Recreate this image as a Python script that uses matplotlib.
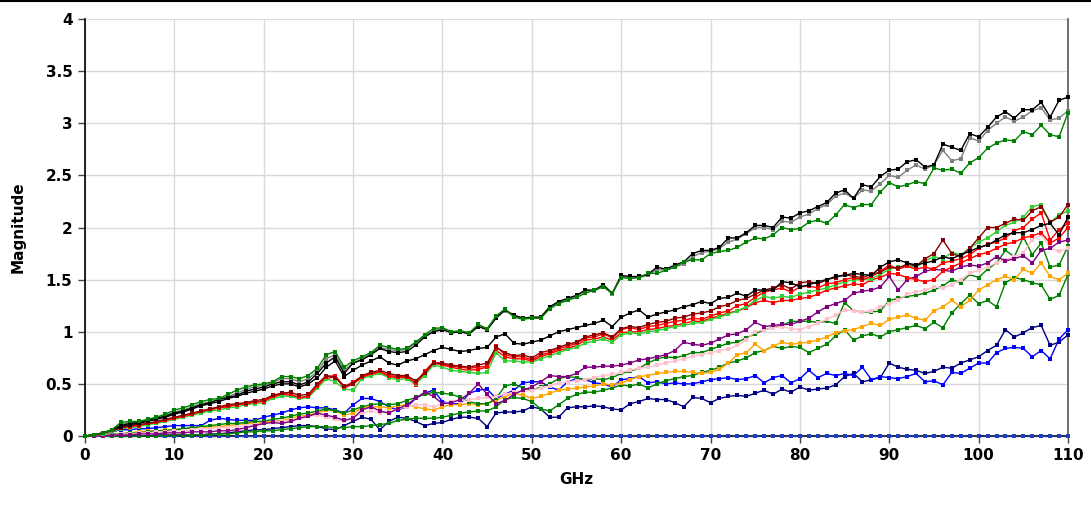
import numpy as np
import matplotlib
matplotlib.use("Agg")
import matplotlib.pyplot as plt
from matplotlib.ticker import FuncFormatter

freq_ghz = list(range(0, 111))

black_top = [
    0, 0.01, 0.03, 0.06, 0.10, 0.12, 0.13, 0.15, 0.17, 0.19, 0.22, 0.24, 0.27, 0.30, 0.32, 0.35, 0.37, 0.39,
    0.43, 0.45, 0.47, 0.50, 0.52, 0.52, 0.49, 0.52, 0.60, 0.70, 0.76, 0.60, 0.70, 0.73, 0.78, 0.84, 0.81, 0.80, 0.81, 0.87,
    0.95, 1.00, 1.02, 0.99, 1.00, 0.98, 1.05, 1.02, 1.13, 1.21, 1.16, 1.13, 1.14, 1.14, 1.24, 1.29, 1.32, 1.35, 1.40,
    1.40, 1.45, 1.37, 1.54, 1.53, 1.53, 1.55, 1.62, 1.60, 1.64, 1.67, 1.75, 1.78, 1.78, 1.81, 1.90, 1.90, 1.95, 2.02, 2.02,
    2.00, 2.10, 2.09, 2.14, 2.16, 2.20, 2.24, 2.33, 2.36, 2.28, 2.41, 2.39, 2.49, 2.55, 2.56, 2.63, 2.65,
    2.58, 2.60, 2.80, 2.77, 2.74, 2.90, 2.87, 2.96, 3.06, 3.11, 3.05, 3.13, 3.13, 3.20, 3.06, 3.22, 3.25,
]
gray_top = [
    0, 0.01, 0.03, 0.05, 0.11, 0.13, 0.14, 0.15, 0.18, 0.20, 0.23, 0.25, 0.28, 0.31, 0.33, 0.35, 0.38, 0.41,
    0.45, 0.47, 0.49, 0.51, 0.55, 0.55, 0.52, 0.55, 0.62, 0.74, 0.78, 0.63, 0.70, 0.74, 0.79, 0.85, 0.83, 0.82, 0.83, 0.89,
    0.96, 1.01, 1.03, 0.99, 1.00, 0.98, 1.06, 1.02, 1.14, 1.20, 1.15, 1.13, 1.13, 1.14, 1.23, 1.28, 1.31, 1.34, 1.39,
    1.39, 1.44, 1.36, 1.53, 1.52, 1.52, 1.54, 1.60, 1.59, 1.62, 1.65, 1.72, 1.76, 1.77, 1.80, 1.86, 1.89, 1.94, 2.00, 2.00,
    1.98, 2.06, 2.05, 2.10, 2.13, 2.18, 2.22, 2.30, 2.33, 2.28, 2.36, 2.35, 2.42, 2.50, 2.48, 2.55, 2.60,
    2.56, 2.60, 2.74, 2.64, 2.66, 2.86, 2.83, 2.93, 3.00, 3.06, 3.02, 3.06, 3.12, 3.15, 3.03, 3.05, 3.12,
]
green_top = [
    0, 0.01, 0.03, 0.06, 0.13, 0.14, 0.14, 0.16, 0.18, 0.21, 0.25, 0.27, 0.30, 0.33, 0.35, 0.36, 0.40, 0.44,
    0.47, 0.49, 0.50, 0.52, 0.57, 0.57, 0.55, 0.58, 0.65, 0.78, 0.81, 0.66, 0.72, 0.76, 0.80, 0.87, 0.85, 0.83, 0.84, 0.90,
    0.97, 1.03, 1.04, 1.00, 1.01, 0.99, 1.07, 1.03, 1.15, 1.22, 1.14, 1.12, 1.13, 1.13, 1.22, 1.27, 1.30, 1.33, 1.37,
    1.40, 1.43, 1.37, 1.52, 1.51, 1.52, 1.56, 1.56, 1.59, 1.62, 1.67, 1.69, 1.69, 1.75, 1.77, 1.78, 1.81, 1.86, 1.90, 1.89,
    1.93, 2.00, 1.98, 1.99, 2.05, 2.07, 2.04, 2.12, 2.22, 2.19, 2.22, 2.22, 2.34, 2.43, 2.39, 2.41, 2.44,
    2.42, 2.57, 2.55, 2.56, 2.52, 2.62, 2.67, 2.76, 2.81, 2.84, 2.83, 2.92, 2.89, 2.98, 2.89, 2.87, 3.10,
]
black_mid = [
    0, 0.01, 0.03, 0.05, 0.09, 0.11, 0.12, 0.14, 0.16, 0.18, 0.21, 0.23, 0.26, 0.29, 0.31, 0.33, 0.36, 0.38,
    0.41, 0.43, 0.45, 0.48, 0.50, 0.50, 0.47, 0.50, 0.56, 0.66, 0.72, 0.57, 0.63, 0.68, 0.72, 0.76, 0.70, 0.68, 0.72, 0.74,
    0.78, 0.82, 0.85, 0.83, 0.81, 0.82, 0.84, 0.85, 0.95, 0.98, 0.89, 0.88, 0.90, 0.92, 0.96, 1.00, 1.02, 1.04, 1.06,
    1.08, 1.11, 1.05, 1.14, 1.18, 1.21, 1.14, 1.17, 1.19, 1.21, 1.24, 1.26, 1.29, 1.27, 1.32, 1.33, 1.37, 1.34, 1.40, 1.40,
    1.40, 1.48, 1.47, 1.43, 1.45, 1.48, 1.50, 1.53, 1.54, 1.56, 1.55, 1.54, 1.62, 1.67, 1.69, 1.66, 1.64,
    1.66, 1.68, 1.72, 1.70, 1.74, 1.77, 1.81, 1.83, 1.88, 1.93, 1.95, 1.95, 1.98, 2.02, 2.04, 1.93, 2.10,
]
maroon = [
    0, 0.01, 0.03, 0.05, 0.08, 0.10, 0.11, 0.12, 0.14, 0.16, 0.18, 0.20, 0.22, 0.24, 0.26, 0.28, 0.30, 0.31,
    0.32, 0.34, 0.35, 0.39, 0.41, 0.42, 0.39, 0.40, 0.50, 0.58, 0.56, 0.48, 0.50, 0.58, 0.61, 0.63, 0.60, 0.58, 0.58, 0.53,
    0.60, 0.70, 0.70, 0.68, 0.67, 0.66, 0.68, 0.70, 0.85, 0.80, 0.77, 0.78, 0.75, 0.80, 0.82, 0.85, 0.88, 0.90, 0.95,
    0.97, 0.99, 0.95, 1.03, 1.05, 1.04, 1.07, 1.09, 1.10, 1.13, 1.14, 1.17, 1.18, 1.20, 1.24, 1.26, 1.30, 1.32, 1.36, 1.40,
    1.42, 1.45, 1.41, 1.47, 1.48, 1.46, 1.50, 1.52, 1.55, 1.53, 1.52, 1.55, 1.57, 1.62, 1.61, 1.65, 1.63,
    1.70, 1.75, 1.88, 1.75, 1.72, 1.80, 1.90, 2.00, 2.00, 2.04, 2.08, 2.07, 2.16, 2.20, 2.05, 2.10, 2.22,
]
red = [
    0, 0.01, 0.03, 0.05, 0.08, 0.09, 0.10, 0.12, 0.13, 0.15, 0.17, 0.19, 0.21, 0.24, 0.26, 0.27, 0.29, 0.30,
    0.31, 0.33, 0.33, 0.38, 0.41, 0.40, 0.37, 0.38, 0.48, 0.57, 0.58, 0.47, 0.52, 0.57, 0.60, 0.62, 0.58, 0.57, 0.57, 0.51,
    0.62, 0.71, 0.69, 0.67, 0.66, 0.65, 0.66, 0.67, 0.86, 0.78, 0.76, 0.76, 0.73, 0.78, 0.80, 0.84, 0.86, 0.89, 0.94,
    0.95, 0.98, 0.94, 1.02, 1.04, 1.02, 1.05, 1.06, 1.08, 1.10, 1.11, 1.13, 1.12, 1.15, 1.18, 1.20, 1.25, 1.27, 1.33, 1.38,
    1.40, 1.42, 1.38, 1.43, 1.44, 1.42, 1.46, 1.47, 1.50, 1.52, 1.50, 1.53, 1.58, 1.64, 1.60, 1.63, 1.60,
    1.62, 1.60, 1.66, 1.68, 1.70, 1.74, 1.80, 1.84, 1.86, 1.90, 1.97, 2.00, 2.08, 2.14, 1.88, 1.98, 2.04,
]
red_b = [
    0, 0.01, 0.02, 0.04, 0.07, 0.09, 0.10, 0.11, 0.13, 0.15, 0.17, 0.19, 0.21, 0.23, 0.25, 0.27, 0.28, 0.30,
    0.31, 0.32, 0.34, 0.37, 0.40, 0.39, 0.36, 0.38, 0.47, 0.55, 0.57, 0.46, 0.50, 0.56, 0.59, 0.61, 0.57, 0.56, 0.56, 0.49,
    0.61, 0.70, 0.68, 0.66, 0.64, 0.63, 0.64, 0.66, 0.82, 0.76, 0.74, 0.74, 0.72, 0.76, 0.79, 0.82, 0.84, 0.87, 0.92,
    0.93, 0.95, 0.92, 0.99, 1.00, 1.00, 1.02, 1.03, 1.05, 1.06, 1.08, 1.10, 1.10, 1.13, 1.15, 1.18, 1.20, 1.23, 1.28, 1.30,
    1.28, 1.30, 1.30, 1.32, 1.33, 1.36, 1.40, 1.42, 1.44, 1.46, 1.45, 1.50, 1.52, 1.56, 1.55, 1.52, 1.50,
    1.48, 1.50, 1.58, 1.62, 1.66, 1.70, 1.74, 1.76, 1.80, 1.84, 1.86, 1.90, 1.92, 1.95, 1.85, 1.90, 2.00,
]
lime = [
    0, 0.01, 0.02, 0.04, 0.07, 0.08, 0.09, 0.11, 0.12, 0.14, 0.16, 0.18, 0.20, 0.22, 0.24, 0.25, 0.27, 0.28,
    0.30, 0.31, 0.32, 0.36, 0.38, 0.38, 0.36, 0.37, 0.46, 0.55, 0.52, 0.45, 0.44, 0.55, 0.58, 0.60, 0.56, 0.54, 0.55, 0.50,
    0.58, 0.68, 0.66, 0.63, 0.62, 0.61, 0.60, 0.61, 0.80, 0.72, 0.72, 0.71, 0.71, 0.74, 0.77, 0.80, 0.83, 0.85, 0.89,
    0.91, 0.93, 0.90, 0.97, 0.99, 0.98, 1.00, 1.01, 1.03, 1.05, 1.06, 1.08, 1.09, 1.12, 1.14, 1.17, 1.20, 1.24, 1.30, 1.34,
    1.32, 1.34, 1.33, 1.36, 1.38, 1.40, 1.42, 1.45, 1.48, 1.50, 1.50, 1.51, 1.55, 1.60, 1.62, 1.63, 1.62,
    1.68, 1.72, 1.70, 1.76, 1.74, 1.80, 1.86, 1.90, 1.96, 2.02, 2.05, 2.10, 2.20, 2.22, 2.05, 2.12, 2.16,
]
purple = [
    0, 0, 0, 0.01, 0.01, 0.01, 0.02, 0.02, 0.02, 0.03, 0.03, 0.03, 0.04, 0.04, 0.04, 0.05, 0.05, 0.06,
    0.08, 0.10, 0.12, 0.13, 0.12, 0.14, 0.17, 0.19, 0.22, 0.20, 0.18, 0.15, 0.17, 0.25, 0.28, 0.24, 0.22, 0.26, 0.30, 0.36,
    0.42, 0.38, 0.31, 0.32, 0.35, 0.41, 0.50, 0.40, 0.31, 0.34, 0.40, 0.44, 0.47, 0.52, 0.58, 0.57, 0.57, 0.60, 0.66,
    0.66, 0.67, 0.67, 0.68, 0.70, 0.73, 0.74, 0.76, 0.78, 0.82, 0.90, 0.88, 0.87, 0.89, 0.93, 0.97, 0.98, 1.02, 1.09, 1.05,
    1.06, 1.07, 1.07, 1.10, 1.13, 1.19, 1.24, 1.27, 1.30, 1.37, 1.39, 1.40, 1.43, 1.53, 1.40, 1.50, 1.53,
    1.58, 1.60, 1.59, 1.58, 1.62, 1.64, 1.63, 1.66, 1.72, 1.68, 1.70, 1.73, 1.66, 1.78, 1.80, 1.86, 1.88,
]
pink = [
    0, 0, 0.01, 0.01, 0.02, 0.02, 0.03, 0.03, 0.04, 0.04, 0.05, 0.05, 0.06, 0.07, 0.07, 0.08, 0.08, 0.09,
    0.10, 0.11, 0.12, 0.13, 0.14, 0.15, 0.17, 0.19, 0.20, 0.18, 0.16, 0.14, 0.18, 0.22, 0.24, 0.22, 0.23, 0.26, 0.28, 0.30,
    0.30, 0.28, 0.31, 0.33, 0.34, 0.35, 0.36, 0.37, 0.38, 0.40, 0.42, 0.43, 0.44, 0.46, 0.48, 0.51, 0.52, 0.53, 0.54,
    0.56, 0.58, 0.59, 0.61, 0.63, 0.65, 0.66, 0.68, 0.70, 0.72, 0.74, 0.77, 0.78, 0.80, 0.82, 0.83, 0.87, 0.92, 1.00, 1.02,
    1.04, 1.05, 1.03, 1.02, 1.05, 1.08, 1.12, 1.16, 1.21, 1.20, 1.19, 1.20, 1.24, 1.27, 1.30, 1.36, 1.38,
    1.40, 1.43, 1.42, 1.45, 1.50, 1.56, 1.59, 1.62, 1.66, 1.69, 1.72, 1.76, 1.88, 1.93, 1.81, 1.77, 1.80,
]
orange = [
    0, 0, 0.01, 0.01, 0.02, 0.03, 0.04, 0.05, 0.05, 0.06, 0.06, 0.07, 0.08, 0.08, 0.09, 0.09, 0.10, 0.11,
    0.12, 0.12, 0.13, 0.14, 0.15, 0.17, 0.19, 0.20, 0.22, 0.25, 0.24, 0.20, 0.22, 0.27, 0.28, 0.28, 0.27, 0.29, 0.30, 0.28,
    0.26, 0.25, 0.28, 0.30, 0.30, 0.31, 0.30, 0.31, 0.34, 0.38, 0.41, 0.39, 0.36, 0.38, 0.41, 0.44, 0.45, 0.46, 0.47,
    0.48, 0.50, 0.49, 0.51, 0.54, 0.57, 0.58, 0.60, 0.61, 0.62, 0.62, 0.61, 0.60, 0.61, 0.64, 0.70, 0.78, 0.80, 0.88, 0.82,
    0.86, 0.90, 0.88, 0.89, 0.90, 0.92, 0.95, 0.99, 1.01, 1.02, 1.05, 1.08, 1.06, 1.12, 1.14, 1.16, 1.13,
    1.11, 1.20, 1.24, 1.30, 1.24, 1.30, 1.40, 1.45, 1.50, 1.53, 1.50, 1.60, 1.56, 1.66, 1.53, 1.50, 1.56,
]
green_mid = [
    0, 0.01, 0.01, 0.02, 0.02, 0.03, 0.03, 0.04, 0.05, 0.05, 0.06, 0.07, 0.08, 0.09, 0.10, 0.11, 0.12, 0.12,
    0.13, 0.14, 0.14, 0.16, 0.17, 0.19, 0.21, 0.22, 0.24, 0.26, 0.24, 0.22, 0.25, 0.28, 0.30, 0.31, 0.30, 0.31, 0.34, 0.37,
    0.40, 0.42, 0.41, 0.40, 0.37, 0.33, 0.31, 0.31, 0.36, 0.48, 0.50, 0.46, 0.44, 0.47, 0.50, 0.55, 0.57, 0.56, 0.54,
    0.55, 0.54, 0.56, 0.60, 0.62, 0.65, 0.70, 0.74, 0.76, 0.75, 0.77, 0.80, 0.80, 0.83, 0.86, 0.89, 0.90, 0.94, 0.98, 1.02,
    1.04, 1.06, 1.10, 1.10, 1.10, 1.09, 1.10, 1.08, 1.28, 1.20, 1.19, 1.19, 1.20, 1.30, 1.32, 1.34, 1.35,
    1.37, 1.40, 1.44, 1.50, 1.47, 1.55, 1.52, 1.60, 1.66, 1.78, 1.72, 1.91, 1.74, 1.85, 1.62, 1.64, 1.82,
]
green_low = [
    0, 0, 0, 0, 0, 0, 0, 0, 0, 0.01, 0.01, 0.01, 0.01, 0.01, 0.02, 0.02, 0.02, 0.03,
    0.04, 0.04, 0.05, 0.05, 0.06, 0.07, 0.08, 0.09, 0.09, 0.09, 0.08, 0.08, 0.09, 0.09, 0.10, 0.11, 0.12, 0.15, 0.16, 0.17,
    0.17, 0.17, 0.18, 0.20, 0.22, 0.23, 0.24, 0.24, 0.28, 0.35, 0.37, 0.36, 0.33, 0.26, 0.24, 0.30, 0.36, 0.40, 0.42,
    0.42, 0.44, 0.46, 0.49, 0.48, 0.50, 0.46, 0.50, 0.53, 0.55, 0.57, 0.58, 0.61, 0.63, 0.66, 0.70, 0.72, 0.75, 0.80, 0.82,
    0.86, 0.84, 0.86, 0.85, 0.80, 0.84, 0.88, 0.96, 1.02, 0.92, 0.96, 0.98, 0.95, 1.00, 1.02, 1.04, 1.06,
    1.03, 1.09, 1.04, 1.18, 1.27, 1.35, 1.27, 1.30, 1.24, 1.47, 1.52, 1.50, 1.47, 1.45, 1.31, 1.35, 1.55,
]
blue = [
    0, 0.01, 0.02, 0.04, 0.06, 0.06, 0.07, 0.07, 0.08, 0.09, 0.10, 0.10, 0.10, 0.10, 0.15, 0.17, 0.16, 0.15,
    0.15, 0.15, 0.18, 0.20, 0.22, 0.25, 0.27, 0.28, 0.27, 0.27, 0.25, 0.22, 0.30, 0.36, 0.36, 0.33, 0.28, 0.25, 0.28, 0.36,
    0.41, 0.44, 0.33, 0.31, 0.31, 0.41, 0.44, 0.45, 0.36, 0.40, 0.44, 0.51, 0.52, 0.52, 0.47, 0.44, 0.52, 0.55, 0.54,
    0.51, 0.50, 0.47, 0.54, 0.55, 0.57, 0.51, 0.52, 0.50, 0.51, 0.50, 0.50, 0.52, 0.54, 0.55, 0.56, 0.54, 0.55, 0.58, 0.51,
    0.56, 0.58, 0.51, 0.55, 0.63, 0.56, 0.60, 0.58, 0.60, 0.58, 0.66, 0.54, 0.57, 0.56, 0.55, 0.57, 0.60,
    0.52, 0.53, 0.49, 0.61, 0.60, 0.65, 0.70, 0.70, 0.80, 0.84, 0.85, 0.84, 0.76, 0.82, 0.74, 0.93, 1.02,
]
navy = [
    0, 0, 0, 0, 0, 0, 0, 0, 0.01, 0.01, 0.01, 0.01, 0.01, 0.01, 0.02, 0.02, 0.03, 0.04,
    0.05, 0.06, 0.06, 0.07, 0.08, 0.09, 0.10, 0.10, 0.09, 0.07, 0.06, 0.10, 0.14, 0.18, 0.16, 0.06, 0.14, 0.18, 0.17, 0.14,
    0.10, 0.12, 0.13, 0.16, 0.18, 0.18, 0.17, 0.09, 0.22, 0.23, 0.23, 0.24, 0.28, 0.26, 0.18, 0.18, 0.27, 0.28, 0.28,
    0.29, 0.28, 0.26, 0.25, 0.31, 0.33, 0.36, 0.35, 0.35, 0.32, 0.28, 0.37, 0.36, 0.32, 0.36, 0.38, 0.39, 0.38, 0.41, 0.44,
    0.40, 0.45, 0.42, 0.47, 0.44, 0.45, 0.46, 0.49, 0.57, 0.60, 0.52, 0.54, 0.56, 0.70, 0.66, 0.64, 0.63,
    0.60, 0.62, 0.66, 0.65, 0.70, 0.73, 0.76, 0.82, 0.87, 1.02, 0.95, 0.99, 1.04, 1.06, 0.87, 0.90, 0.97,
]
baseline = [0.0] * 111

series = [
    (baseline, "#1f3fbf", "--"),
    (navy, "#000080", "-"),
    (blue, "#0000ff", "-"),
    (green_low, "#008000", "-"),
    (orange, "#ffa500", "-"),
    (green_mid, "#008000", "-"),
    (pink, "#ffc0cb", "-"),
    (purple, "#800080", "-"),
    (red_b, "#ff0000", "-"),
    (lime, "#32cd32", "-"),
    (red, "#ff0000", "-"),
    (maroon, "#8b0000", "-"),
    (black_mid, "#000000", "-"),
    (gray_top, "#808080", "-"),
    (black_top, "#000000", "-"),
    (green_top, "#008000", "-"),
]

fig = plt.figure(figsize=(10.91, 5.11), dpi=100)
ax = fig.add_axes([85 / 1091, 1 - 436 / 511, (1068 - 85) / 1091, (436 - 19) / 511])

for values, color, ls in series:
    ax.plot(freq_ghz, values, color=color, linestyle=ls, linewidth=1.0,
            marker="s", markersize=2.6, markeredgewidth=0, clip_on=False, zorder=3)

ax.set_xlim(0, 110)
ax.set_ylim(0, 4)
ax.set_xticks(range(0, 111, 10))
ax.set_yticks(np.arange(0, 4.01, 0.5))
ax.yaxis.set_major_formatter(FuncFormatter(lambda v, p: f"{v:g}"))
ax.grid(True, color="#d9d9d9", linewidth=1.0, zorder=0)
ax.set_axisbelow(True)

for side in ("left", "bottom"):
    ax.spines[side].set_color("#000000")
    ax.spines[side].set_linewidth(1.2)
ax.spines["right"].set_color("#555555")
ax.spines["right"].set_linewidth(1.2)
ax.spines["top"].set_visible(False)

ax.tick_params(axis="both", direction="out", length=5, width=1, color="#444444",
               labelsize=11, pad=4)
for lbl in ax.get_xticklabels() + ax.get_yticklabels():
    lbl.set_fontweight("bold")

ax.set_xlabel("GHz", fontsize=11, fontweight="bold", labelpad=6)
ax.set_ylabel("Magnitude", fontsize=11, fontweight="bold", labelpad=14)

# thin rule along the top edge of the figure
fig.add_artist(plt.Line2D([0, 1], [0.998, 0.998], color="#000000", linewidth=1.5,
                          transform=fig.transFigure))

fig.savefig("out.png", dpi=100)
